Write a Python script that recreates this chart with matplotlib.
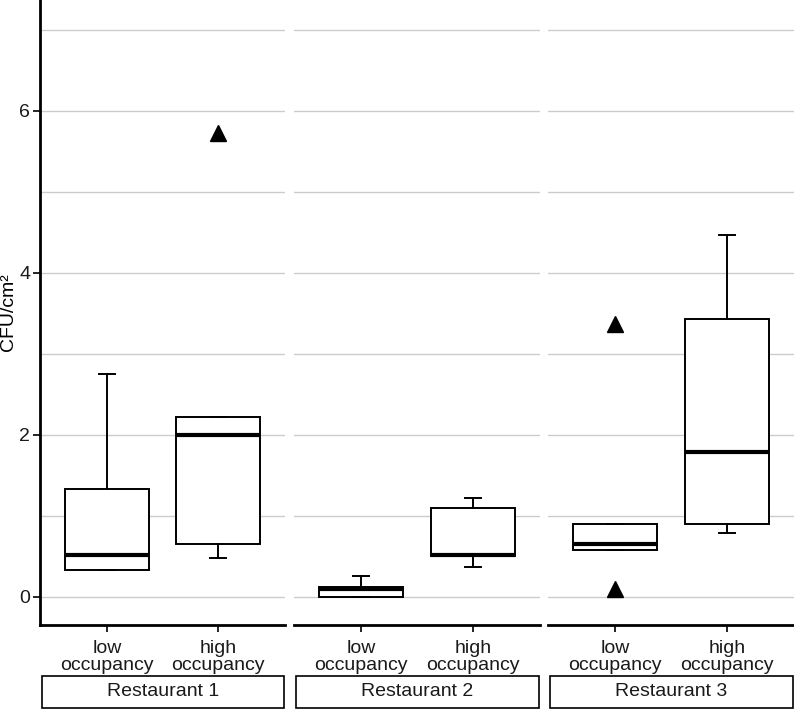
import matplotlib
matplotlib.use("Agg")
import matplotlib.pyplot as plt
from matplotlib.patches import Rectangle

plt.rcParams['font.family'] = ['Liberation Sans', 'DejaVu Sans']

restaurants = ["Restaurant 1", "Restaurant 2", "Restaurant 3"]
groups = ["low\noccupancy", "high\noccupancy"]

# per restaurant: [low, high]
whislo = [[0.33, 0.48], [0.00, 0.37], [0.58, 0.79]]
q1     = [[0.33, 0.65], [0.00, 0.50], [0.58, 0.90]]
med    = [[0.51, 2.00], [0.09, 0.52], [0.65, 1.79]]
q3     = [[1.33, 2.22], [0.12, 1.09], [0.90, 3.43]]
whishi = [[2.75, 2.22], [0.26, 1.22], [0.90, 4.47]]
fliers = [[[], [5.73]], [[], []], [[3.37, 0.09], []]]

W, H = 794, 710
fig = plt.figure(figsize=(W / 100, H / 100), dpi=100)

panels_px = [(40, 285), (294, 540), (548, 794)]
top_px, bot_px = 0, 625

for i, (x0, x1) in enumerate(panels_px):
    ax = fig.add_axes([x0 / W, (H - bot_px) / H, (x1 - x0) / W, (bot_px - top_px) / H])
    stats = []
    for j in range(2):
        stats.append(dict(whislo=whislo[i][j], q1=q1[i][j], med=med[i][j],
                          q3=q3[i][j], whishi=whishi[i][j], fliers=fliers[i][j]))
    ax.bxp(stats, positions=[1, 2], widths=0.75, patch_artist=True,
           showcaps=True, capwidths=0.14,
           boxprops=dict(facecolor='white', edgecolor='black', linewidth=1.4),
           medianprops=dict(color='black', linewidth=3.0, solid_capstyle='butt'),
           whiskerprops=dict(color='black', linewidth=1.4),
           capprops=dict(color='black', linewidth=1.4),
           flierprops=dict(marker='^', markerfacecolor='black', markeredgecolor='black',
                           markersize=11, linestyle='none'))
    ax.set_xlim(0.4, 2.6)
    ax.set_ylim(-0.35, 7.37)
    ax.set_yticks([0, 2, 4, 6])
    ax.set_yticks([1, 3, 5, 7], minor=True)
    ax.grid(True, which='both', axis='y', color='#cccccc', linewidth=1.0)
    ax.set_axisbelow(True)
    ax.set_xticks([1, 2])
    ax.set_xticklabels(groups, fontsize=14, color='#1a1a1a', linespacing=0.95)
    ax.tick_params(axis='x', length=5, width=1.2, pad=6)
    for s in ['top', 'right']:
        ax.spines[s].set_visible(False)
    ax.spines['bottom'].set_linewidth(2.0)
    if i == 0:
        ax.spines['left'].set_linewidth(2.0)
        ax.tick_params(axis='y', which='major', length=5, width=1.2, labelsize=14,
                       labelcolor='#1a1a1a', pad=2)
        ax.tick_params(axis='y', which='minor', length=0)
        ax.set_ylabel("CFU/cm²", fontsize=14)
        ax.yaxis.set_label_coords(9 / W, (H - 312) / H, transform=fig.transFigure)
        ax.yaxis.label.set_va('center')
        ax.yaxis.label.set_ha('center')
    else:
        ax.spines['left'].set_visible(False)
        ax.tick_params(axis='y', which='both', length=0, labelleft=False)
    # strip at bottom
    sx0, sx1 = x0 + 2, x1 - 1
    sy0, sy1 = 676, 708
    rect = Rectangle((sx0 / W, (H - sy1) / H), (sx1 - sx0) / W, (sy1 - sy0) / H,
                     transform=fig.transFigure, facecolor='white', edgecolor='black',
                     linewidth=1.2)
    fig.patches.append(rect)
    fig.text((sx0 + sx1) / 2 / W, (H - (sy0 + sy1) / 2) / H, restaurants[i],
             ha='center', va='center', fontsize=14, color='#1a1a1a')

fig.savefig("out.png", dpi=100)
